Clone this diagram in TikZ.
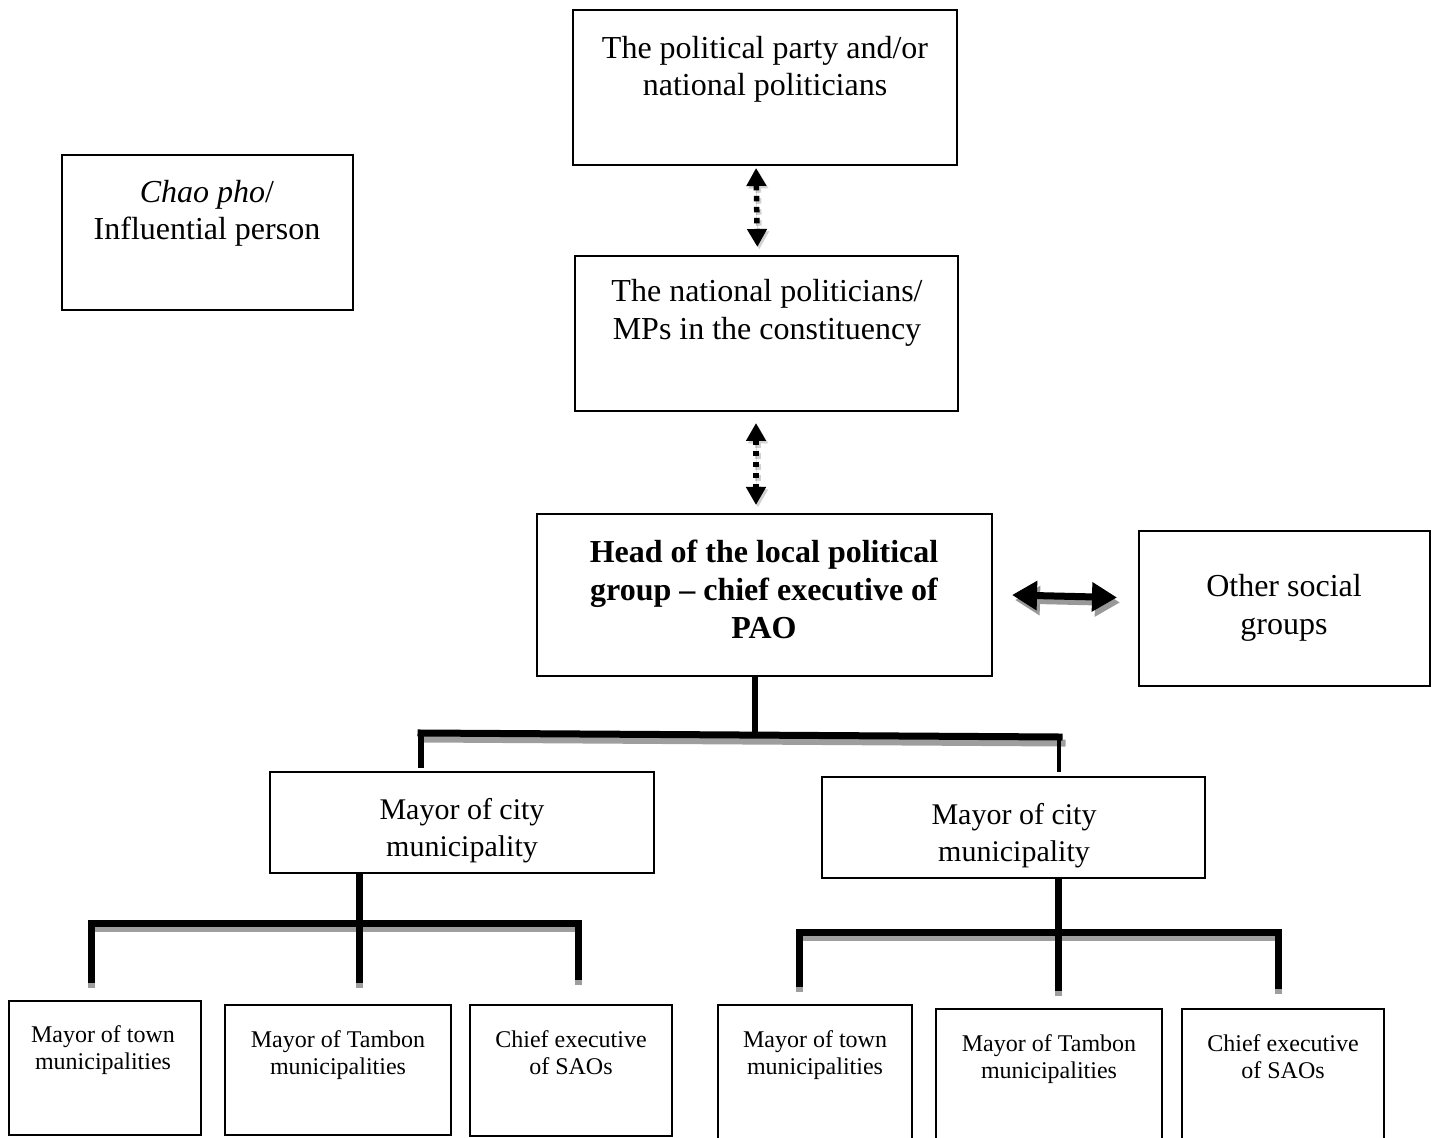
\documentclass[tikz,border=0pt]{standalone}
\usepackage{fontspec}
\setmainfont{Liberation Serif}
\usetikzlibrary{arrows.meta}
\begin{document}
\begin{tikzpicture}[x=0.5pt,y=-0.5pt,
  box/.style={draw=black,line width=0.9pt,anchor=north west,inner sep=0pt,outer sep=0pt},
  lbl/.style={inner sep=0pt,anchor=north,align=center,font=\fontsize{16}{18.5}\selectfont},
  lblbig/.style={lbl,font=\fontsize{16}{19}\selectfont},
  lblmid/.style={lbl,font=\fontsize{15}{18.5}\selectfont},
  lblsmall/.style={lbl,font=\fontsize{12}{13.5}\selectfont},
  dotarrow/.style={line width=2.75pt,dash pattern=on 2.75pt off 2.75pt,
    {Triangle[width=9.5pt,length=9pt]}-{Triangle[width=9.5pt,length=9pt]}},
  bigarrow/.style={line width=3.5pt,{Triangle[width=14pt,length=12.5pt]}-{Triangle[width=14pt,length=12.5pt]}},
  tree/.style={line width=3.5pt,line join=miter,line cap=butt},
  treeshade/.style={draw=black!38},
  shade/.style={transform canvas={shift={(#1)}}},
]
\useasboundingbox (0,0) rectangle (1439,1138);

% ---- boxes ----
\node[box,minimum width=192pt,minimum height=77.5pt]   (top)   at (573,10)   {};
\node[box,minimum width=145.5pt,minimum height=77.5pt] (chao)  at (62,155)   {};
\node[box,minimum width=191.5pt,minimum height=77.5pt] (nat)   at (575,256)  {};
\node[box,minimum width=227.5pt,minimum height=81pt]   (head)  at (537,514)  {};
\node[box,minimum width=145.5pt,minimum height=77.5pt] (other) at (1139,531) {};
\node[box,minimum width=192pt,minimum height=50.5pt]   (mayL)  at (270,772)  {};
\node[box,minimum width=191.5pt,minimum height=50.5pt] (mayR)  at (822,777)  {};
\node[box,minimum width=96pt,minimum height=67pt]      (b1)    at (9,1001)   {};
\node[box,minimum width=113pt,minimum height=65pt]     (b2)    at (225,1005) {};
\node[box,minimum width=101pt,minimum height=65.5pt]   (b3)    at (470,1005) {};
\node[box,minimum width=97pt,minimum height=72pt]      (b4)    at (718,1005) {};
\node[box,minimum width=113pt,minimum height=70pt]     (b5)    at (936,1009) {};
\node[box,minimum width=101pt,minimum height=70pt]     (b6)    at (1182,1009){};

% ---- labels ----
\node[lbl]      (topT)   at (765,36)   {The political party and/or\\national politicians};
\node[lbl]      (chaoT)  at (207,180)  {\textit{Chao pho}/\\Influential person};
\node[lblbig]   (natT)   at (767,279)  {The national politicians/\\MPs in the constituency};
\node[lblbig,font=\fontsize{16}{19}\selectfont\bfseries] (headT) at (764,540)
  {Head of the local political\\group -- chief executive of\\PAO};
\node[lblbig]   (otherT) at (1284,574) {Other social\\groups};
\node[lblmid]   (mayLT)  at (462,798)  {Mayor of city\\municipality};
\node[lblmid]   (mayRT)  at (1014,803) {Mayor of city\\municipality};
\node[lblsmall] (b1T)    at (103,1025) {Mayor of town\\municipalities};
\node[lblsmall] (b2T)    at (338,1030) {Mayor of Tambon\\municipalities};
\node[lblsmall] (b3T)    at (571,1030) {Chief executive\\of SAOs};
\node[lblsmall] (b4T)    at (815,1030) {Mayor of town\\municipalities};
\node[lblsmall] (b5T)    at (1049,1034){Mayor of Tambon\\municipalities};
\node[lblsmall] (b6T)    at (1283,1034){Chief executive\\of SAOs};

% ---- dotted two-way arrows ----
\foreach \s/\c in {{1pt,-1.2pt}/black!18, {0pt,0pt}/black}{
  \draw[dotarrow,draw=\c,fill=\c,shade={\s},shorten <=1.5pt,shorten >=4.5pt]
    ([xshift=-4.5pt]top.south) -- ([xshift=-4.5pt]nat.north);
  \draw[dotarrow,draw=\c,fill=\c,shade={\s},shorten <=6pt,shorten >=4.5pt]
    ([xshift=-5.25pt]nat.south) -- ([xshift=-4.25pt]head.north);
}

% ---- solid two-way arrow ----
\draw[bigarrow,draw=black!40,fill=black!40,shade={1.5pt,-2.5pt}]
  ([xshift=10pt]head.east) -- ([xshift=-11pt,yshift=5.5pt]other.west);
\draw[bigarrow,fill=black]
  ([xshift=10pt]head.east) -- ([xshift=-11pt,yshift=5.5pt]other.west);

% ---- tree coordinates ----
\coordinate (hj) at (755,735);
\coordinate (hl) at (421,733);
\coordinate (hr) at (1059,737);
\coordinate (hle) at (421,768);
\coordinate (hre) at (1059,772);

\coordinate (lj) at (359,923);
\coordinate (l1) at (91,923);
\coordinate (l3) at (578,923);
\coordinate (l1e) at (91,983);
\coordinate (l2e) at (359,983);
\coordinate (l3e) at (578,980);

\coordinate (rj) at (1058,932);
\coordinate (r1) at (799,932);
\coordinate (r3) at (1278,932);
\coordinate (r1e) at (799,987);
\coordinate (r2e) at (1058,991);
\coordinate (r3e) at (1278,989);

% ---- tree shadows ----
\begin{scope}[treeshade]
  \draw[tree,line cap=rect,shade={1.5pt,-3pt}] (hl) -- (hr);
  \draw[tree,shade={0pt,-2.5pt}] (l1e) -- (l1) -- (l3) -- (l3e);
  \draw[tree,shade={0pt,-2.5pt}] (lj) -- (l2e);
  \draw[tree,shade={0pt,-2.5pt}] (r1e) -- (r1) -- (r3) -- (r3e);
  \draw[tree,shade={0pt,-2.5pt}] (rj) -- (r2e);
\end{scope}

% ---- tree lines ----
\draw[tree,line width=3.25pt] (head.south -| hj) -- (hj);
\draw[tree,line cap=rect] (hl) -- (hr);
\draw[tree,line width=3pt] (hl) -- (hle);
\draw[tree,line width=2pt] (hr) -- (hre);

\draw[tree] (mayL.south -| lj) -- (lj);
\draw[tree] (l1e) -- (l1) -- (l3) -- (l3e);
\draw[tree] (lj) -- (l2e);

\draw[tree] (mayR.south -| rj) -- (rj);
\draw[tree] (r1e) -- (r1) -- (r3) -- (r3e);
\draw[tree] (rj) -- (r2e);
\end{tikzpicture}
\end{document}
